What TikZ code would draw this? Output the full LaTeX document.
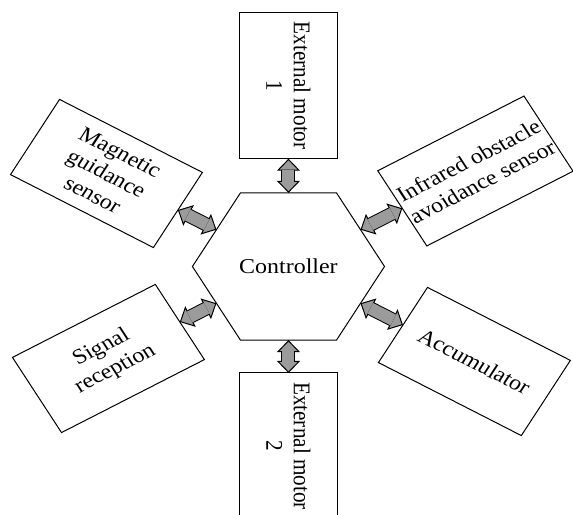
\documentclass[tikz,border=0pt]{standalone}
\usepackage{fontspec}
\setmainfont{Liberation Serif}
\usetikzlibrary{shapes.geometric, arrows.meta}
\definecolor{arrowgray}{RGB}{155,155,155}

\begin{document}
\begin{tikzpicture}[x=0.5pt, y=0.5pt, xscale=1.13, transform shape,
    unitbox/.style={draw, line width=0.5pt, minimum width=73pt, minimum height=43.4pt,
        inner sep=1pt, outer sep=0pt, align=center, font=\fontsize{10.6}{12.2}\selectfont},
    hexnode/.style={draw, line width=0.5pt, regular polygon, regular polygon sides=6,
        minimum size=85pt, inner sep=0pt, outer sep=0pt, font=\fontsize{10.6}{12.2}\selectfont},
    fathead/.tip={Triangle[length=6pt, width=11.5pt, fill=arrowgray, line width=0.5pt]},
    link/.style={line width=7pt, fathead-fathead,
        postaction={draw=arrowgray, line width=6pt, -, shorten <=5.5pt, shorten >=5.5pt}}]
    \useasboundingbox (-255.3,-248.5) rectangle (251.8,266.5);

    \node [hexnode] (ctrl) at (0,0) {Controller};

    \node [unitbox, rotate=-90] (motorA) at (90:180.8) {External motor\\1};
    \node [unitbox, rotate=-90] (motorB) at (270:179.5) {External motor\\2};
    \node [unitbox, rotate=-30] (mag) at (150:186) {Magnetic\\guidance\\sensor};
    \node [unitbox, rotate=30] (ir) at (30:191) {Infrared obstacle\\avoidance sensor};
    \node [unitbox, rotate=30] (sig) at (210:184) {Signal\\reception};
    \node [unitbox, rotate=-30] (acc) at (330:190) {Accumulator};

    \draw [link] (motorA.east) -- (ctrl.90);
    \draw [link] (ctrl.270) -- (motorB.west);
    \draw [link] (mag.east) -- (ctrl.150);
    \draw [link] (ir.west) -- (ctrl.30);
    \draw [link] (sig.east) -- (ctrl.210);
    \draw [link] (acc.west) -- (ctrl.330);
\end{tikzpicture}
\end{document}
